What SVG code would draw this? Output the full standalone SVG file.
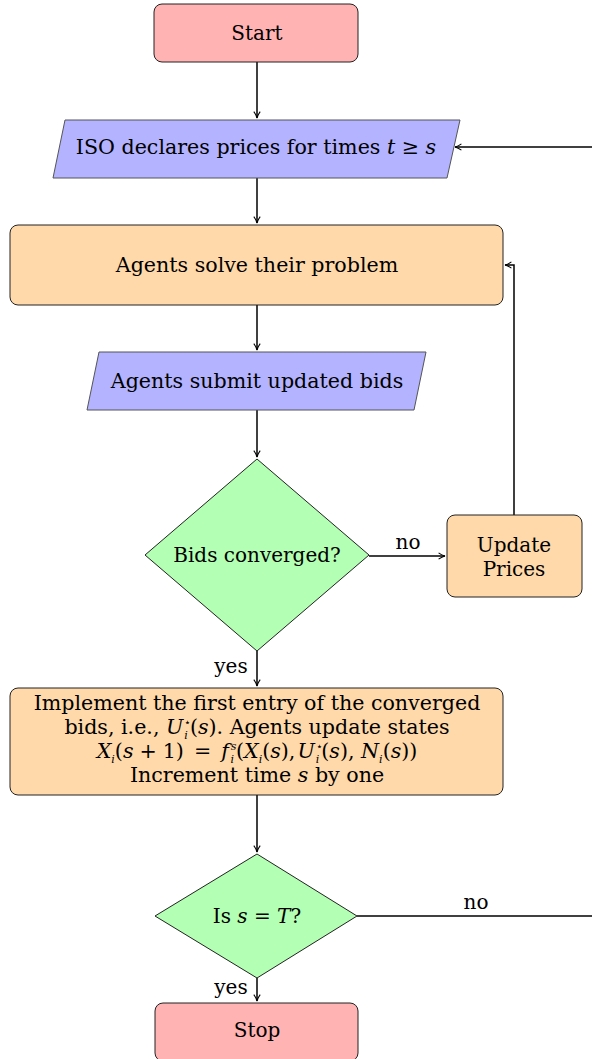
<svg xmlns="http://www.w3.org/2000/svg" width="592" height="1059" viewBox="0 0 592 1059">
<style>
text{font-family:"DejaVu Serif","Liberation Serif",serif;font-size:20px;fill:#000;text-anchor:middle}
.t{font-size:20.6px}
.m{font-style:italic;font-family:"DejaVu Serif","Liberation Serif",serif}
.s{font-size:11px}
.red{fill:#ffb3b3;stroke:#222;stroke-width:1}
.blue{fill:#b3b3ff;stroke:#555;stroke-width:1}
.orange{fill:#ffd9aa;stroke:#222;stroke-width:1}
.green{fill:#b3ffb3;stroke:#222;stroke-width:1}
.c{fill:none;stroke:#000;stroke-width:1.5}
</style>
<defs>
<marker id="a" viewBox="0 0 10 10" refX="9" refY="5" markerWidth="8" markerHeight="8" orient="auto" markerUnits="userSpaceOnUse">
<path d="M1,1 Q5,4 9,5 Q5,6 1,9" fill="none" stroke="#000" stroke-width="1.3"/>
</marker>
</defs>
<g id="connectors">
<line class="c" x1="257" y1="62" x2="257" y2="118" marker-end="url(#a)"/>
<line class="c" x1="592" y1="147" x2="455" y2="147" marker-end="url(#a)"/>
<line class="c" x1="257" y1="178" x2="257" y2="223" marker-end="url(#a)"/>
<line class="c" x1="257" y1="305" x2="257" y2="350" marker-end="url(#a)"/>
<line class="c" x1="257" y1="410" x2="257" y2="457" marker-end="url(#a)"/>
<line class="c" x1="369" y1="556" x2="445" y2="556" marker-end="url(#a)"/>
<polyline class="c" points="514,515 514,265 505,265" marker-end="url(#a)"/>
<line class="c" x1="257" y1="651" x2="257" y2="686" marker-end="url(#a)"/>
<line class="c" x1="257" y1="795" x2="257" y2="852" marker-end="url(#a)"/>
<line class="c" x1="357" y1="916" x2="592" y2="916"/>
<line class="c" x1="257" y1="978" x2="257" y2="1001" marker-end="url(#a)"/>
<text x="408" y="549">no</text>
<text x="231" y="673">yes</text>
<text x="476" y="909">no</text>
<text x="231" y="994">yes</text>
</g>
<g id="start">
<rect class="red" x="154" y="4" width="204" height="58" rx="8"/>
<text x="257" y="40">Start</text>
</g>
<g id="iso">
<polygon class="blue" points="65,120 460,120 447,178 53,178"/>
<text class="t" x="256" y="154">ISO declares prices for times <tspan class="m">t</tspan> ≥ <tspan class="m">s</tspan></text>
</g>
<g id="solve">
<rect class="orange" x="10" y="225" width="493" height="80" rx="8"/>
<text class="t" x="257" y="272">Agents solve their problem</text>
</g>
<g id="submit">
<polygon class="blue" points="99,352 426,352 414,410 87,410"/>
<text class="t" x="257" y="388">Agents submit updated bids</text>
</g>
<g id="converged">
<polygon class="green" points="257,459 369,555 257,651 145,555"/>
<text x="257" y="562">Bids converged?</text>
</g>
<g id="update">
<rect class="orange" x="447" y="515" width="135" height="82" rx="8"/>
<text x="514" y="552">Update</text>
<text x="514" y="576">Prices</text>
</g>
<g id="implement">
<rect class="orange" x="10" y="688" width="493" height="107" rx="8"/>
<text class="t" x="257" y="710">Implement the first entry of the converged</text>
<text class="t" x="257" y="734">bids, i.e., <tspan class="m">U</tspan><tspan class="s" dx="1" dy="-8">⋆</tspan><tspan class="s m" dx="-7" dy="13">i</tspan><tspan dy="-5" dx="2">(</tspan><tspan class="m">s</tspan>). Agents update states</text>
<text class="t" x="257" y="758"><tspan class="m">X</tspan><tspan class="s m" dy="5">i</tspan><tspan dy="-5">(</tspan><tspan class="m">s</tspan><tspan dx="6">+</tspan><tspan dx="6">1)</tspan><tspan dx="10">=</tspan><tspan class="m" dx="10">f</tspan><tspan class="s m" dx="2" dy="-8">s</tspan><tspan class="s m" dx="-6" dy="13">i</tspan><tspan dy="-5" dx="2">(</tspan><tspan class="m">X</tspan><tspan class="s m" dy="5">i</tspan><tspan dy="-5">(</tspan><tspan class="m">s</tspan>),<tspan class="m" dx="2">U</tspan><tspan class="s" dx="1" dy="-8">⋆</tspan><tspan class="s m" dx="-7" dy="13">i</tspan><tspan dy="-5" dx="2">(</tspan><tspan class="m">s</tspan>), <tspan class="m">N</tspan><tspan class="s m" dy="5">i</tspan><tspan dy="-5">(</tspan><tspan class="m">s</tspan>))</text>
<text class="t" x="257" y="782">Increment time <tspan class="m">s</tspan> by one</text>
</g>
<g id="isT">
<polygon class="green" points="257,854 357,916 257,978 155,916"/>
<text x="257" y="923">Is <tspan class="m">s</tspan> = <tspan class="m">T</tspan>?</text>
</g>
<g id="stop">
<rect class="red" x="155" y="1003" width="203" height="58" rx="8"/>
<text x="257" y="1037">Stop</text>
</g>
</svg>
